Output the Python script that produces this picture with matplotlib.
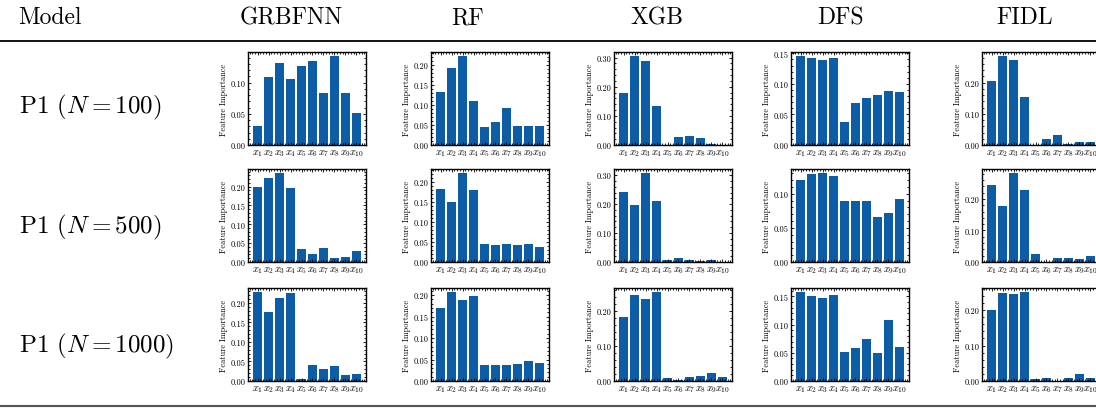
import matplotlib
matplotlib.use("Agg")
import matplotlib.pyplot as plt
from matplotlib.lines import Line2D
from matplotlib.ticker import FormatStrFormatter, MaxNLocator, AutoMinorLocator

plt.rcParams['font.family'] = 'serif'
plt.rcParams['font.serif'] = ['cmr10']
plt.rcParams['mathtext.fontset'] = 'cm'
plt.rcParams['axes.formatter.use_mathtext'] = True

# Feature importances (x1..x10)
models = ['GRBFNN', 'RF', 'XGB', 'DFS', 'FIDL']
row_labels = [r'P1 ($N = 100$)', r'P1 ($N = 500$)', r'P1 ($N = 1000$)']
features = [r'$x_{%d}$' % i for i in range(1, 11)]

grbfnn_100 = [0.030, 0.109, 0.132, 0.106, 0.126, 0.134, 0.083, 0.142, 0.083, 0.051]
rf_100 = [0.131, 0.191, 0.221, 0.109, 0.045, 0.057, 0.092, 0.047, 0.047, 0.047]
xgb_100 = [0.178, 0.304, 0.287, 0.133, 0.001, 0.027, 0.031, 0.024, 0.005, 0.001]
dfs_100 = [0.145, 0.142, 0.139, 0.142, 0.037, 0.068, 0.077, 0.082, 0.088, 0.087]
fidl_100 = [0.204, 0.284, 0.274, 0.153, 0.000, 0.019, 0.032, 0.003, 0.010, 0.010]

grbfnn_500 = [0.198, 0.222, 0.235, 0.196, 0.034, 0.021, 0.037, 0.011, 0.013, 0.029]
rf_500 = [0.183, 0.150, 0.222, 0.180, 0.045, 0.043, 0.045, 0.043, 0.045, 0.038]
xgb_500 = [0.241, 0.196, 0.306, 0.210, 0.008, 0.014, 0.008, 0.004, 0.008, 0.001]
dfs_500 = [0.121, 0.129, 0.130, 0.126, 0.089, 0.089, 0.089, 0.066, 0.072, 0.092]
fidl_500 = [0.243, 0.177, 0.281, 0.227, 0.025, 0.000, 0.013, 0.013, 0.009, 0.019]

grbfnn_1000 = [0.227, 0.176, 0.212, 0.225, 0.006, 0.042, 0.031, 0.039, 0.016, 0.019]
rf_1000 = [0.169, 0.206, 0.188, 0.197, 0.038, 0.038, 0.038, 0.040, 0.047, 0.042]
xgb_1000 = [0.183, 0.248, 0.234, 0.254, 0.009, 0.004, 0.012, 0.015, 0.024, 0.012]
dfs_1000 = [0.157, 0.150, 0.147, 0.153, 0.051, 0.058, 0.075, 0.049, 0.108, 0.061]
fidl_1000 = [0.200, 0.248, 0.245, 0.250, 0.007, 0.009, 0.001, 0.009, 0.021, 0.009]

table = [
    [grbfnn_100, rf_100, xgb_100, dfs_100, fidl_100],
    [grbfnn_500, rf_500, xgb_500, dfs_500, fidl_500],
    [grbfnn_1000, rf_1000, xgb_1000, dfs_1000, fidl_1000],
]

W, H = 1096, 410
fig = plt.figure(figsize=(W / 100, H / 100), dpi=100)

col_left = [248, 431, 614, 791, 982]
col_center = [291, 468, 657, 840, 1025]
row_top = [53, 170, 289]
row_center = [107, 227, 346]
ax_w, ax_h = 118, 93
blue = '#0C5DA5'

# header
fig.text(18 / W, 1 - 18 / H, 'Model', fontsize=17, ha='left', va='center')
for name, cx in zip(models, col_center):
    fig.text(cx / W, 1 - 18 / H, name, fontsize=17, ha='center', va='center')
fig.add_artist(Line2D([0, 1], [1 - 42 / H, 1 - 42 / H], transform=fig.transFigure,
                      color='black', lw=1.3))
fig.add_artist(Line2D([0, 1], [1 - 407 / H, 1 - 407 / H], transform=fig.transFigure,
                      color='#555555', lw=1.5))

for r in range(3):
    fig.text(19 / W, 1 - row_center[r] / H, row_labels[r], fontsize=18,
             ha='left', va='center')
    for c in range(5):
        ax = fig.add_axes([col_left[c] / W, 1 - (row_top[r] + ax_h) / H, ax_w / W, ax_h / H])
        ax.bar(range(10), table[r][c], width=0.8, color=blue)
        ax.set_xticks(range(10))
        ax.set_xticklabels(features, fontsize=7.5)
        ax.yaxis.set_major_locator(MaxNLocator(nbins=5, steps=[1, 2, 2.5, 5, 10]))
        ax.yaxis.set_major_formatter(FormatStrFormatter('%.2f'))
        ax.yaxis.set_minor_locator(AutoMinorLocator())
        ax.xaxis.set_minor_locator(AutoMinorLocator(4))
        ax.tick_params(axis='both', which='both', direction='in', top=True, right=True,
                       width=0.6, pad=1.5)
        ax.tick_params(axis='both', which='major', length=2.5)
        ax.tick_params(axis='both', which='minor', length=1.2)
        ax.tick_params(axis='y', labelsize=6)
        ax.set_ylabel('Feature Importance', fontsize=6, labelpad=2)
        for sp in ax.spines.values():
            sp.set_linewidth(1.0)

fig.savefig('out.png', dpi=100)
